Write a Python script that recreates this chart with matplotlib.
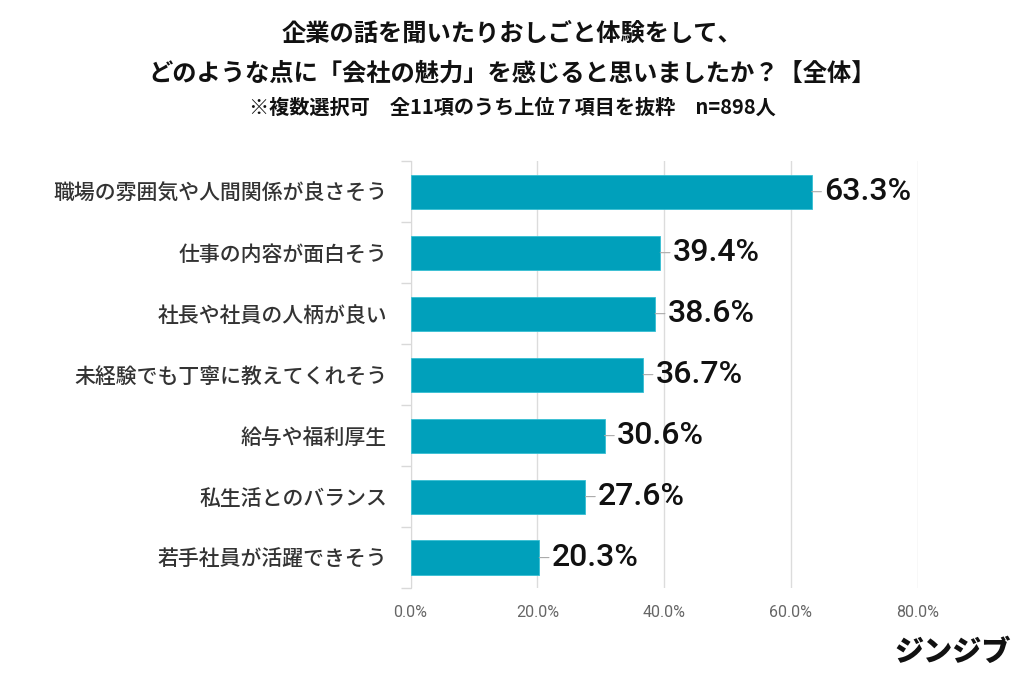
import matplotlib
matplotlib.use("Agg")
from matplotlib import pyplot as plt
import numpy as np

plt.rcParams['font.family'] = ['Noto Sans CJK JP', 'DejaVu Sans']

categories = ["職場の雰囲気や人間関係が良さそう", "仕事の内容が面白そう", "社長や社員の人柄が良い",
              "未経験でも丁寧に教えてくれそう", "給与や福利厚生", "私生活とのバランス", "若手社員が活躍できそう"]
values = [63.3, 39.4, 38.6, 36.7, 30.6, 27.6, 20.3]
xticks = [0, 20, 40, 60, 80]

fig = plt.figure(figsize=(10.24, 6.83), dpi=100)
ax = fig.add_axes([0.401, 0.139, 0.495, 0.625])

y = np.arange(len(categories))
ax.barh(y, values, height=0.56, color='#00a0bb', edgecolor='#35bfd3', linewidth=0.6, zorder=3)
ax.set_ylim(len(categories) - 0.5, -0.5)
ax.set_xlim(0, 80)

# data labels with short leader line
for i, v in enumerate(values):
    ax.annotate(f"{v:.1f}%", xy=(v, i), xytext=(9, 0), textcoords='offset points',
                va='center', ha='left', fontsize=23, family=['Roboto', 'DejaVu Sans'],
                fontweight='medium', color='#111111', zorder=4,
                arrowprops=dict(arrowstyle='-', color='#aaaaaa', lw=0.8, shrinkA=0, shrinkB=0))

ax.set_xticks(xticks)
ax.set_xticklabels([f"{t:.1f}%" for t in xticks], fontsize=11.5, color='#666666',
                   family=['Roboto', 'DejaVu Sans'])
ax.tick_params(axis='x', length=0, pad=12)
ax.set_yticks(y)
ax.set_yticklabels(categories, fontsize=15, color='#333333', fontweight='medium')
ax.tick_params(axis='y', length=0, pad=17)
ax.set_yticks(np.arange(-0.5, len(categories), 1), minor=True)
ax.tick_params(axis='y', which='minor', length=7, color='#d9d9d9', width=1)

ax.grid(axis='x', color='#dcdcdc', linewidth=1, zorder=0)
for s in ['top', 'right', 'bottom']:
    ax.spines[s].set_visible(False)
ax.spines['left'].set_color('#d9d9d9')

fig.text(0.5, 0.950, "企業の話を聞いたりおしごと体験をして、", ha='center', va='center',
         fontsize=17.5, fontweight='bold', color='#111111')
fig.text(0.5, 0.893, "どのような点に「会社の魅力」を感じると思いましたか？【全体】", ha='center', va='center',
         fontsize=17.5, fontweight='bold', color='#111111')
fig.text(0.5, 0.843, "※複数選択可　全11項のうち上位７項目を抜粋　n=898人", ha='center', va='center',
         fontsize=14.5, fontweight='bold', color='#111111')
fig.text(0.987, 0.045, "ジンジブ", ha='right', va='center', fontsize=21, fontweight='black',
         color='#111111')

fig.savefig("out.png", dpi=100, facecolor='white')
